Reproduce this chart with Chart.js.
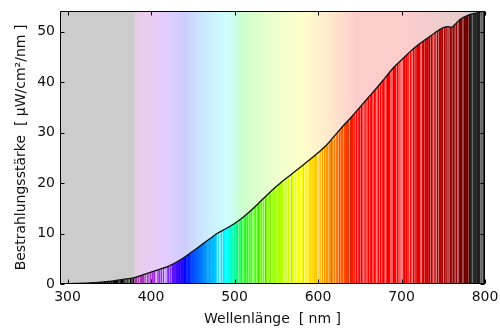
<!DOCTYPE html>
<html>
<head>
<meta charset="utf-8">
<script src="https://cdn.jsdelivr.net/npm/chart.js@4/dist/chart.umd.min.js"></script>
<style>
  html, body { margin: 0; padding: 0; background: #ffffff; }
  #wrap { width: 500px; height: 333px; }
</style>
</head>
<body>
<div id="wrap"><canvas id="c"></canvas></div>
<script>
// Spectral irradiance, µW/cm²/nm, by wavelength in nm
const wavelengths = [290, 300, 310, 320, 330, 340, 350, 360, 370, 380,
  390, 400, 410, 420, 430, 440, 450, 460, 470, 480,
  490, 500, 510, 520, 530, 540, 550, 560, 570, 580,
  590, 600, 610, 620, 630, 640, 650, 660, 670, 680,
  690, 700, 710, 720, 730, 740, 750, 755, 760, 765,
  770, 780, 790, 800];
const irradiance = [0.0, 0.05, 0.1, 0.15, 0.25, 0.35, 0.5, 0.75, 1.0, 1.25,
  1.8, 2.35, 2.9, 3.45, 4.3, 5.3, 6.5, 7.7, 8.9, 10.1,
  11.0, 12.0, 13.2, 14.6, 16.2, 17.8, 19.3, 20.7, 22.0, 23.3,
  24.6, 26.0, 27.5, 29.4, 31.3, 33.1, 35.0, 36.9, 38.8, 40.8,
  42.8, 44.4, 46.0, 47.4, 48.6, 49.8, 50.8, 51.0, 50.9, 51.6,
  52.4, 53.3, 53.7, 54.2];
const xTicks = [300, 400, 500, 600, 700, 800];
const yTicks = [0, 10, 20, 30, 40, 50];
const xRange = [291, 800];
const yRange = [0, 54.1];

const FONT = 'DejaVu Sans';

// Visible-light colour of a wavelength (0..1 per channel), black outside 380–780 nm
function spectralRGB(w) {
  let r = 0, g = 0, b = 0;
  if (w >= 380 && w < 440) { r = -(w - 440) / 60; b = 1; }
  else if (w >= 440 && w < 490) { g = (w - 440) / 50; b = 1; }
  else if (w >= 490 && w < 510) { g = 1; b = -(w - 510) / 20; }
  else if (w >= 510 && w < 580) { r = (w - 510) / 70; g = 1; }
  else if (w >= 580 && w < 645) { r = 1; g = -(w - 645) / 65; }
  else if (w >= 645 && w <= 780) { r = 1; }
  let f = 0;
  if (w >= 380 && w < 420) f = 0.45 + 0.55 * (w - 380) / 40;
  else if (w >= 420 && w < 701) f = 1;
  else if (w >= 701 && w <= 780) f = 0.35 + 0.65 * (780 - w) / 80;
  const adj = c => c === 0 ? 0 : Math.pow(c * f, 0.8);
  return [adj(r), adj(g), adj(b)];
}

// Deterministic stripe shading for the filled band (texture only):
// positive = blend toward white, negative = darken
function stripeShade(w) {
  const s = Math.sin(w * 12.9898 + 78.233) * 43758.5453;
  const h = s - Math.floor(s);
  let amp = 1;
  if (w >= 425 && w < 475) amp = 0.2;
  let base = (w >= 380 && w < 425) ? 0.2 : 0;
  if (h > 0.4) return base + (h - 0.4) * 0.9 * amp;
  if (h < 0.1) return base - (0.1 - h) * 1.8 * amp;
  return base;
}

function toCss(rgb) {
  return 'rgb(' + rgb.map(c => Math.round(Math.max(0, Math.min(255, c)))).join(',') + ')';
}

function paleColor(w) {
  const c = spectralRGB(w);
  return toCss(c.map(v => v * 255 * 0.2 + 204));
}

function stripeColor(w) {
  const c = spectralRGB(w);
  const t = stripeShade(w);
  const base = (w > 780) ? 0.13 : 0;
  return toCss(c.map(v => {
    const v0 = Math.max(v, base);
    return (t >= 0 ? v0 * (1 - t) + t : v0 * (1 + t)) * 255;
  }));
}

// Horizontal gradient following the x scale
function buildGradient(chart, colorFn, step, hard) {
  const { ctx, chartArea } = chart;
  const xs = chart.scales.x;
  const L = chartArea.left, W = chartArea.right - chartArea.left;
  const g = ctx.createLinearGradient(L, 0, chartArea.right, 0);
  const pos = w => Math.max(0, Math.min(1, (xs.getPixelForValue(w) - L) / W));
  for (let w = Math.floor(xRange[0]) - step; w <= xRange[1] + step; w += step) {
    const col = colorFn(w);
    const p0 = pos(w), p1 = pos(w + step);
    if (hard) {
      g.addColorStop(p0, col);
      g.addColorStop(Math.max(p0, p1 - 0.0001), col);
    } else {
      g.addColorStop(p0, col);
    }
  }
  return g;
}

let fillCache = null, fillKey = '';
function fillGradient(chart) {
  const a = chart.chartArea;
  const key = [a.left, a.right, a.top, a.bottom].join(',');
  if (!fillCache || key !== fillKey) {
    fillCache = buildGradient(chart, stripeColor, 1, true);
    fillKey = key;
  }
  return fillCache;
}

const backdrop = {
  id: 'spectrumBackdrop',
  beforeDatasetsDraw(chart) {
    const { ctx, chartArea: a } = chart;
    ctx.save();
    ctx.fillStyle = buildGradient(chart, paleColor, 2, false);
    ctx.fillRect(a.left, a.top, a.right - a.left, a.bottom - a.top);
    ctx.restore();
  },
  afterDatasetsDraw(chart) {
    const { ctx, chartArea: a, scales } = chart;
    ctx.save();
    ctx.strokeStyle = '#000';
    ctx.lineWidth = 1;
    const L = Math.round(a.left) + 0.5, R = Math.round(a.right) - 0.5;
    const T = Math.round(a.top) + 0.5, B = Math.round(a.bottom) - 0.5;
    ctx.beginPath();
    ctx.rect(L, T, R - L, B - T);
    // inward tick marks on all four sides
    const tl = 4;
    xTicks.forEach(v => {
      const x = Math.round(scales.x.getPixelForValue(v)) + 0.5;
      ctx.moveTo(x, B); ctx.lineTo(x, B - tl);
      ctx.moveTo(x, T); ctx.lineTo(x, T + tl);
    });
    yTicks.forEach(v => {
      const y = Math.round(scales.y.getPixelForValue(v)) + 0.5;
      ctx.moveTo(L, y); ctx.lineTo(L + tl, y);
      ctx.moveTo(R, y); ctx.lineTo(R - tl, y);
    });
    ctx.stroke();
    ctx.restore();
  }
};

new Chart(document.getElementById('c'), {
  type: 'line',
  data: {
    datasets: [{
      data: wavelengths.map((w, i) => ({ x: w, y: irradiance[i] })),
      borderColor: '#111',
      borderWidth: 1.3,
      pointRadius: 0,
      cubicInterpolationMode: 'monotone',
      fill: 'origin',
      backgroundColor: (c) => c.chart.chartArea ? fillGradient(c.chart) : 'transparent'
    }]
  },
  options: {
    responsive: true,
    maintainAspectRatio: false,
    animation: false,
    layout: { padding: { top: 11, right: 15, left: 0, bottom: 0 } },
    plugins: { legend: { display: false }, tooltip: { enabled: false } },
    scales: {
      x: {
        type: 'linear',
        min: xRange[0], max: xRange[1],
        afterBuildTicks: s => { s.ticks = xTicks.map(v => ({ value: v })); },
        afterFit: s => { s.height = 49; s.paddingLeft = 0; s.paddingRight = 0; },
        grid: { display: false, drawTicks: false },
        border: { display: false },
        ticks: { color: '#111', padding: 5, maxRotation: 0, autoSkip: false,
                 font: { family: FONT, size: 14 } },
        title: { display: true, text: 'Wellenlänge  [ nm ]', color: '#111',
                 font: { family: FONT, size: 14 }, padding: { top: 0, bottom: 5 } }
      },
      y: {
        type: 'linear',
        min: yRange[0], max: yRange[1],
        afterBuildTicks: s => { s.ticks = yTicks.map(v => ({ value: v })); },
        afterFit: s => { s.width = 60; s.paddingTop = 0; s.paddingBottom = 0; },
        grid: { display: false, drawTicks: false },
        border: { display: false },
        ticks: { color: '#111', padding: 5, font: { family: FONT, size: 14 } },
        title: { display: true, text: 'Bestrahlungsstärke  [ µW/cm²/nm ]', color: '#111',
                 font: { family: FONT, size: 14 }, padding: { top: 13, bottom: 0 } }
      }
    }
  },
  plugins: [backdrop]
});
</script>
</body>
</html>
